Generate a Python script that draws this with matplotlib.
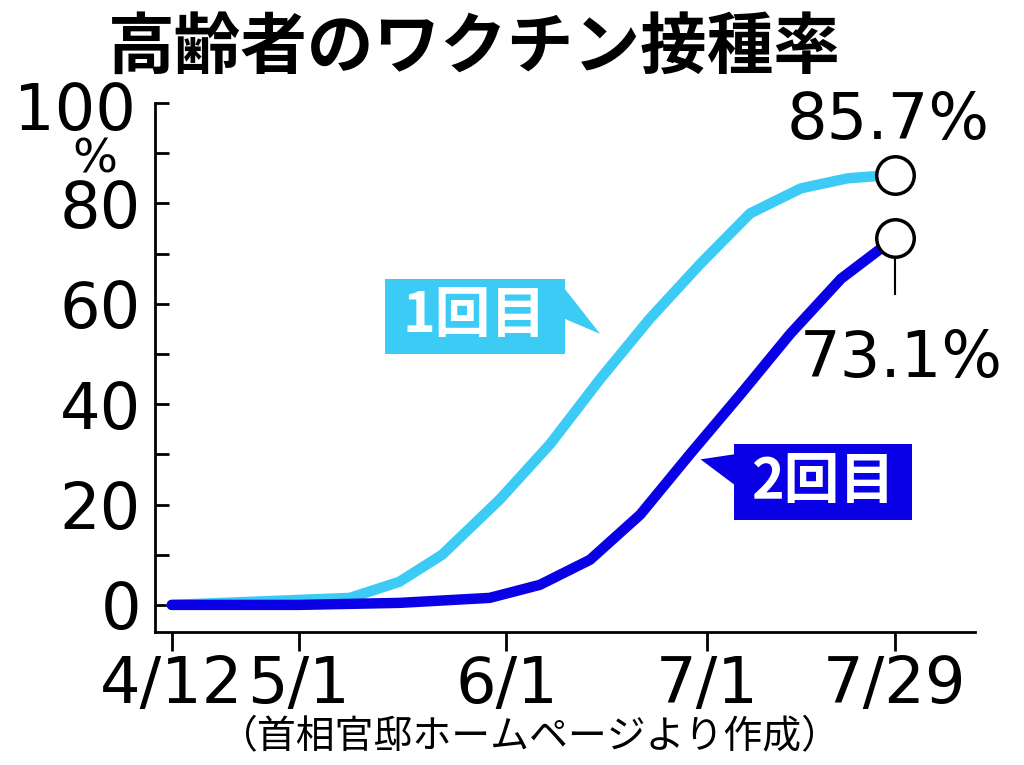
import matplotlib
matplotlib.use("Agg")
import matplotlib.pyplot as plt
from matplotlib.patches import Polygon

plt.rcParams["font.family"] = "Noto Sans CJK JP"

# days since 4/12
days1 = [0, 19, 26.6, 34, 40.4, 49, 56.5, 64, 71.4, 79, 86.4, 94, 101, 108]
dose1 = [0, 1, 1.4, 4.6, 10, 21, 32, 45, 57, 68, 78, 83, 85, 85.7]
days2 = [0, 19, 34, 47.5, 55, 62.5, 70, 77.4, 85, 92.4, 100, 108]
dose2 = [0, 0, 0.4, 1.4, 4, 9, 18, 30, 42, 54, 65, 73.1]
xtick_days = [0, 19, 50, 80, 108]
xtick_labels = ["4/12", "5/1", "6/1", "7/1", "7/29"]
ytick_vals = [0, 20, 40, 60, 80, 100]

C1 = "#3ccbf5"
C2 = "#0a00e6"
NUMFONT = dict(fontfamily="Liberation Sans Narrow", fontsize=46)

fig = plt.figure(figsize=(10.24, 7.65), dpi=100)
ax = fig.add_axes([155/1024, (765-632)/765, (975-155)/1024, (632-103)/765])
ax.set_xlim(-2.5, 120)
ax.set_ylim(-5.4, 100)
for s in ["top", "right"]:
    ax.spines[s].set_visible(False)
ax.spines["left"].set_linewidth(2)
ax.spines["bottom"].set_linewidth(2)

ax.plot(days1, dose1, color=C1, lw=7.5, solid_capstyle="round", solid_joinstyle="round", zorder=3)
ax.plot(days2, dose2, color=C2, lw=7.5, solid_capstyle="round", solid_joinstyle="round", zorder=3)
ax.plot([108], [dose1[-1]], "o", ms=27, mfc="white", mec="black", mew=2.5, zorder=5)
ax.plot([108], [dose2[-1]], "o", ms=27, mfc="white", mec="black", mew=2.5, zorder=5)
ax.plot([108, 108], [dose2[-1], 62], color="black", lw=1.5, zorder=4)

ax.set_xticks(xtick_days)
ax.set_xticklabels(xtick_labels, **NUMFONT)
ax.set_yticks(ytick_vals)
ax.set_yticklabels(["0", "20", "40", "60", "80", ""], **NUMFONT)
ax.set_yticks(range(0, 100, 10), minor=True)
ax.tick_params(axis="y", which="both", direction="in", length=10, width=2, pad=10)
ax.tick_params(axis="x", direction="out", length=14, width=2, pad=2)
fig.text(75/1024, 1-112/765, "100", ha="center", va="center", **NUMFONT)
fig.text(95/1024, 1-160/765, "%", fontsize=34, fontfamily="Liberation Sans Narrow", ha="center", va="center")

ax.text(108 - 1, 96.5, "85.7%", ha="center", va="center", **NUMFONT)
ax.text(108 + 1, 49, "73.1%", ha="center", va="center", **NUMFONT)

def tag(x0, x1, y0, y1, tip, color, text):
    ax.add_patch(Polygon([(x0, y0), (x1, y0), (x1, y1), (x0, y1)], closed=True,
                         fc=color, ec="none", zorder=2))
    ax.add_patch(Polygon(tip, closed=True, fc=color, ec="none", zorder=2))
    ax.text((x0 + x1) / 2, (y0 + y1) / 2, text, color="white", fontsize=40,
            fontweight="bold", ha="center", va="center", zorder=3)

tag(31.8, 58.7, 50, 65, [(58.7, 63), (64, 54), (58.7, 57)], C1, "1回目")
tag(84, 110.6, 17, 32, [(84, 30), (79, 29), (84, 24)], C2, "2回目")

fig.text(108/1024, 1-48/765, "高齢者のワクチン接種率", fontsize=48, fontweight="bold", va="center")
fig.text(530/1024, 1-737/765, "（首相官邸ホームページより作成）", fontsize=28, ha="center", va="center")

fig.savefig("out.png", dpi=100, facecolor="white")
